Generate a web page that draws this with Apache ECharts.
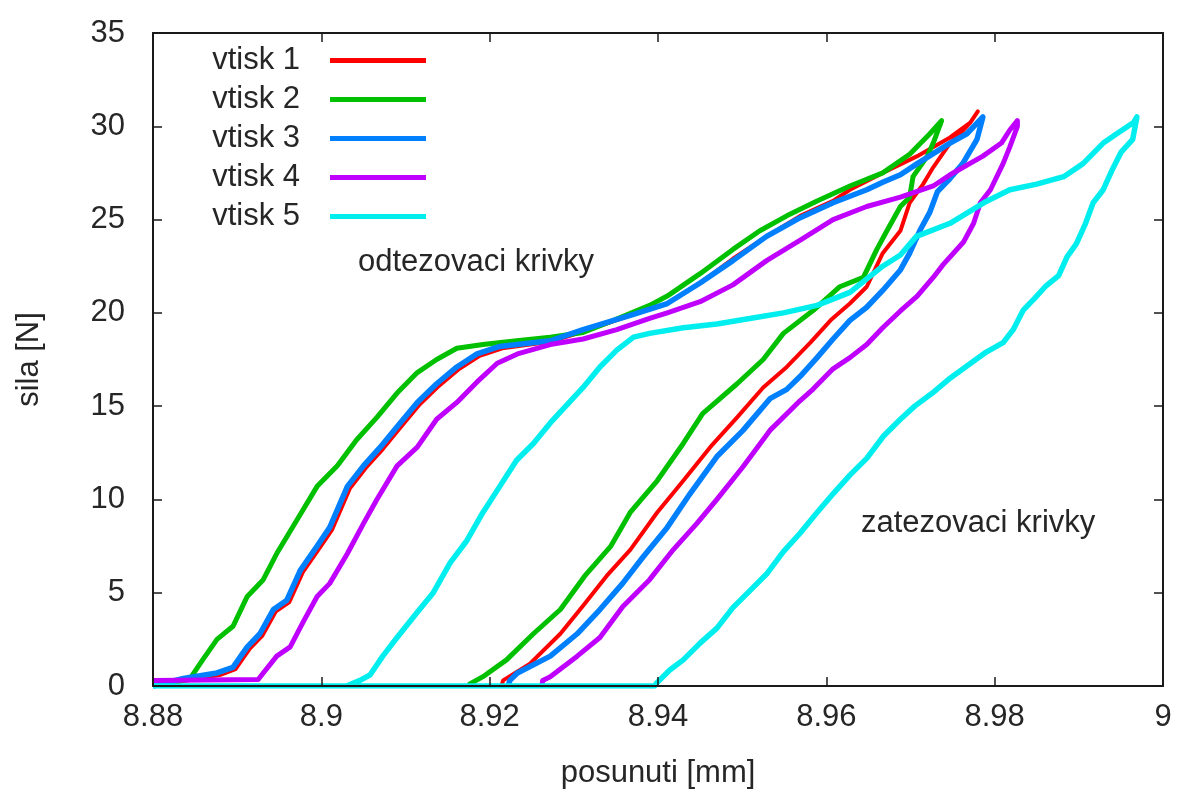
<!DOCTYPE html>
<html>
<head>
<meta charset="utf-8">
<script src="https://cdn.jsdelivr.net/npm/echarts@6/dist/echarts.min.js"></script>
<style>
html,body{margin:0;padding:0;background:#fff;}
#chart{width:1178px;height:798px;}
</style>
</head>
<body>
<div id="chart"></div>
<script>
// ---- data ----
const seriesNames = ['vtisk 1', 'vtisk 2', 'vtisk 3', 'vtisk 4', 'vtisk 5'];
const xTicks = [8.88, 8.9, 8.92, 8.94, 8.96, 8.98, 9];
const yTicks = [0, 5, 10, 15, 20, 25, 30, 35];
const xTitle = 'posunuti [mm]';
const yTitle = 'sila [N]';
const noteUnload = 'odtezovaci krivky';
const noteLoad = 'zatezovaci krivky';

// each loop: [posunuti, sila]
const vtisk1 = [
  [8.880,0],[8.8840,0.3],[8.8880,0.6],[8.8898,0.9],[8.8915,2.0],[8.8930,2.7],[8.8946,4.0],[8.8962,4.5],
  [8.8978,6.1],[8.8998,7.4],[8.9013,8.4],[8.9034,10.6],[8.9053,11.7],[8.9073,12.7],[8.9093,13.8],
  [8.9117,15.1],[8.9140,16.1],[8.9164,17.0],[8.9188,17.7],[8.9215,18.1],[8.9272,18.45],[8.9311,19.0],
  [8.9370,19.9],[8.9411,20.5],[8.9450,21.6],[8.9489,22.9],[8.9529,24.1],[8.9569,25.2],[8.9608,26.0],
  [8.9628,26.6],[8.9667,27.5],[8.9708,28.4],[8.9747,29.4],[8.9771,30.2],[8.9780,30.8],
  [8.9771,30.2],[8.9759,29.6],[8.9747,29.1],[8.9727,27.8],[8.9715,26.9],[8.9699,25.9],[8.9688,24.4],
  [8.9667,23.2],[8.9648,21.4],[8.9628,20.5],[8.9605,19.6],[8.9581,18.4],[8.9553,17.1],[8.9525,16.0],
  [8.9494,14.4],[8.9462,12.8],[8.9430,11.0],[8.9399,9.3],[8.9367,7.3],[8.9339,5.9],[8.9311,4.3],
  [8.9284,2.8],[8.9248,1.2],[8.9216,0.3],[8.9214,0]
];
const vtisk2 = [
  [8.880,0.2],[8.8836,0.3],[8.8844,0.4],[8.8859,1.4],[8.8876,2.5],[8.8895,3.2],[8.8912,4.8],[8.8931,5.7],
  [8.8947,7.1],[8.8971,8.9],[8.8995,10.7],[8.9019,11.8],[8.9042,13.2],[8.9066,14.4],[8.9090,15.7],
  [8.9114,16.8],[8.9137,17.5],[8.9161,18.1],[8.9192,18.3],[8.9232,18.5],[8.9272,18.7],[8.9311,18.95],
  [8.9358,19.8],[8.9390,20.4],[8.9411,20.9],[8.9450,22.1],[8.9489,23.4],[8.9521,24.4],[8.9553,25.2],
  [8.9589,26.0],[8.9628,26.8],[8.9667,27.5],[8.9699,28.5],[8.9723,29.6],[8.9737,30.3],
  [8.9727,29.1],[8.9720,28.4],[8.9703,27.3],[8.9699,26.2],[8.9688,25.7],[8.9672,24.4],[8.9660,23.4],
  [8.9644,21.9],[8.9616,21.4],[8.9585,20.15],[8.9549,18.9],[8.9525,17.5],[8.9494,16.2],[8.9453,14.6],
  [8.9430,13.0],[8.9399,11.0],[8.9367,9.3],[8.9344,7.5],[8.9313,5.9],[8.9284,4.1],[8.9252,2.8],
  [8.9220,1.4],[8.9192,0.5],[8.9176,0.1],[8.9176,0]
];
const vtisk3 = [
  [8.880,0],[8.8836,0.4],[8.8876,0.7],[8.8895,1.0],[8.8912,2.1],[8.8927,2.8],[8.8943,4.1],[8.8959,4.6],
  [8.8975,6.2],[8.8995,7.5],[8.9010,8.5],[8.9031,10.7],[8.9050,11.8],[8.9070,12.8],[8.9090,13.9],
  [8.9114,15.2],[8.9137,16.2],[8.9161,17.1],[8.9185,17.8],[8.9212,18.2],[8.9272,18.5],[8.9311,19.1],
  [8.9370,19.9],[8.9411,20.5],[8.9450,21.6],[8.9489,22.8],[8.9529,24.1],[8.9569,25.1],[8.9608,25.9],
  [8.9648,26.6],[8.9667,27.0],[8.9688,27.4],[8.9708,28.0],[8.9747,29.1],[8.9767,29.6],[8.9786,30.5],
  [8.9779,29.3],[8.9762,28.0],[8.9747,27.2],[8.9732,26.5],[8.9723,25.4],[8.9711,24.4],[8.9699,23.2],
  [8.9688,22.3],[8.9667,21.2],[8.9648,20.3],[8.9628,19.6],[8.9608,18.6],[8.9589,17.6],[8.9569,16.6],
  [8.9553,15.9],[8.9533,15.4],[8.9501,13.7],[8.9470,12.3],[8.9438,10.3],[8.9411,8.5],[8.9382,6.9],
  [8.9358,5.5],[8.9331,4.1],[8.9304,2.8],[8.9272,1.6],[8.9233,0.7],[8.9224,0.3],[8.9222,0]
];
const vtisk4 = [
  [8.880,0.3],[8.8925,0.35],[8.8931,0.7],[8.8947,1.6],[8.8963,2.1],[8.8978,3.4],[8.8995,4.8],[8.9010,5.5],
  [8.9031,7.1],[8.9050,8.7],[8.9066,10.0],[8.9090,11.8],[8.9114,12.8],[8.9137,14.3],[8.9161,15.2],
  [8.9185,16.3],[8.9209,17.3],[8.9233,17.8],[8.9272,18.3],[8.9311,18.6],[8.9351,19.1],[8.9390,19.7],
  [8.9411,20.0],[8.9450,20.6],[8.9489,21.5],[8.9529,22.8],[8.9569,23.9],[8.9608,25.0],[8.9648,25.7],
  [8.9688,26.2],[8.9727,26.8],[8.9747,27.4],[8.9786,28.4],[8.9808,29.1],[8.9818,29.8],[8.9827,30.3],
  [8.9827,30.0],[8.9818,28.9],[8.9810,28.0],[8.9795,26.6],[8.9783,25.9],[8.9775,24.8],[8.9763,23.8],
  [8.9739,22.6],[8.9727,21.9],[8.9708,20.9],[8.9688,20.1],[8.9667,19.2],[8.9648,18.3],[8.9628,17.6],
  [8.9608,17.0],[8.9584,15.9],[8.9569,15.3],[8.9533,13.7],[8.9501,11.75],[8.9470,10.0],[8.9446,8.7],
  [8.9418,7.3],[8.9390,5.7],[8.9358,4.25],[8.9331,2.6],[8.9304,1.6],[8.9272,0.5],[8.9263,0.3],
  [8.9262,0]
];
const vtisk5 = [
  [8.880,0],[8.9030,0],[8.9046,0.3],[8.9058,0.6],[8.9073,1.6],[8.9090,2.6],[8.9113,3.9],[8.9133,5.0],[8.9153,6.6],[8.9173,7.8],
  [8.9192,9.3],[8.9212,10.7],[8.9232,12.1],[8.9252,13.0],[8.9272,14.1],[8.9311,16.0],[8.9331,17.1],
  [8.9351,18.0],[8.9371,18.7],[8.9390,18.9],[8.9430,19.2],[8.9470,19.4],[8.9509,19.7],[8.9549,20.0],
  [8.9589,20.4],[8.9628,21.1],[8.9667,22.5],[8.9688,23.1],[8.9707,24.1],[8.9747,24.8],[8.9787,25.9],
  [8.9818,26.6],[8.9850,26.9],[8.9882,27.3],[8.9905,28.0],[8.9929,29.1],[8.9945,29.6],[8.9965,30.2],
  [8.9969,30.5],
  [8.9964,29.3],[8.9950,28.6],[8.9940,27.7],[8.9929,26.6],[8.9917,25.9],[8.9908,24.8],[8.9897,23.7],
  [8.9886,23.0],[8.9876,22.0],[8.9860,21.4],[8.9848,20.8],[8.9834,20.15],[8.9822,19.1],[8.9810,18.4],
  [8.9790,17.9],[8.9767,17.15],[8.9747,16.5],[8.9726,15.7],[8.9705,15.0],[8.9688,14.3],[8.9668,13.4],
  [8.9648,12.2],[8.9628,11.3],[8.9608,10.3],[8.9589,9.3],[8.9569,8.2],[8.9549,7.2],[8.9529,6.0],
  [8.9509,5.1],[8.9489,4.2],[8.9470,3.1],[8.9450,2.3],[8.9430,1.4],[8.9414,0.86],[8.9398,0.14],
  [8.9396,0],[8.9200,0],[8.9000,0],[8.880,0]
];
const loops = [vtisk1, vtisk2, vtisk3, vtisk4, vtisk5];

// ---- styling ----
const colors = ['#ff0000', '#00c000', '#0080ff', '#c000ff', '#00eeee'];
const widths = [4, 5, 5.5, 5, 5.5];
const FONT = '"Liberation Sans", Arial, sans-serif';
const TXT = '#262626';

const chart = echarts.init(document.getElementById('chart'), null, {renderer: 'canvas'});

const axisCommon = {
  type: 'value',
  axisLine: {show: true, onZero: false, lineStyle: {color: '#1a1a1a', width: 2}},
  axisTick: {show: true, inside: true, length: 9, lineStyle: {color: '#1a1a1a', width: 1.5}},
  splitLine: {show: false},
  z: 5
};
const fmt = v => String(parseFloat(Number(v).toFixed(4)));

const option = {
  animation: false,
  backgroundColor: '#ffffff',
  textStyle: {fontFamily: FONT},
  grid: {left: 153, right: 15, top: 33, bottom: 112, containLabel: false},
  legend: {
    data: seriesNames,
    orient: 'vertical',
    right: 747,
    top: 38,
    align: 'right',
    icon: 'rect',
    itemWidth: 96,
    itemHeight: 5,
    itemGap: 4,
    textStyle: {fontFamily: FONT, fontSize: 31, color: TXT, lineHeight: 35, padding: [0, 25, 0, 0]},
    selectedMode: false
  },
  xAxis: [
    Object.assign({}, axisCommon, {
      position: 'bottom',
      min: xTicks[0], max: xTicks[xTicks.length - 1], interval: xTicks[1] - xTicks[0],
      name: xTitle, nameLocation: 'middle', nameGap: 72,
      nameTextStyle: {fontFamily: FONT, fontSize: 31, color: TXT},
      axisLabel: {show: true, margin: 16, fontFamily: FONT, fontSize: 31, color: TXT, formatter: fmt}
    }),
    Object.assign({}, axisCommon, {
      position: 'top',
      min: xTicks[0], max: xTicks[xTicks.length - 1], interval: xTicks[1] - xTicks[0],
      axisLabel: {show: false}
    })
  ],
  yAxis: [
    Object.assign({}, axisCommon, {
      position: 'left',
      min: yTicks[0], max: yTicks[yTicks.length - 1], interval: yTicks[1] - yTicks[0],
      name: yTitle, nameLocation: 'middle', nameGap: 108, nameRotate: 90,
      nameTextStyle: {fontFamily: FONT, fontSize: 31, color: TXT},
      axisLabel: {show: true, margin: 28, fontFamily: FONT, fontSize: 31, color: TXT, formatter: fmt}
    }),
    Object.assign({}, axisCommon, {
      position: 'right',
      min: yTicks[0], max: yTicks[yTicks.length - 1], interval: yTicks[1] - yTicks[0],
      axisLabel: {show: false}
    })
  ],
  series: loops.map((d, i) => ({
    name: seriesNames[i],
    type: 'line',
    xAxisIndex: 0,
    yAxisIndex: 0,
    data: d,
    showSymbol: false,
    symbol: 'none',
    smooth: false,
    color: colors[i],
    lineStyle: {color: colors[i], width: widths[i], join: 'round'},
    itemStyle: {color: colors[i]},
    z: 2,
    z2: i
  })),
  graphic: [
    {type: 'text', left: 358, top: 247, silent: true,
     style: {text: noteUnload, font: '31px ' + FONT, fill: TXT}},
    {type: 'text', left: 861, top: 508, silent: true,
     style: {text: noteLoad, font: '31px ' + FONT, fill: TXT}}
  ]
};
chart.setOption(option);
</script>
</body>
</html>
